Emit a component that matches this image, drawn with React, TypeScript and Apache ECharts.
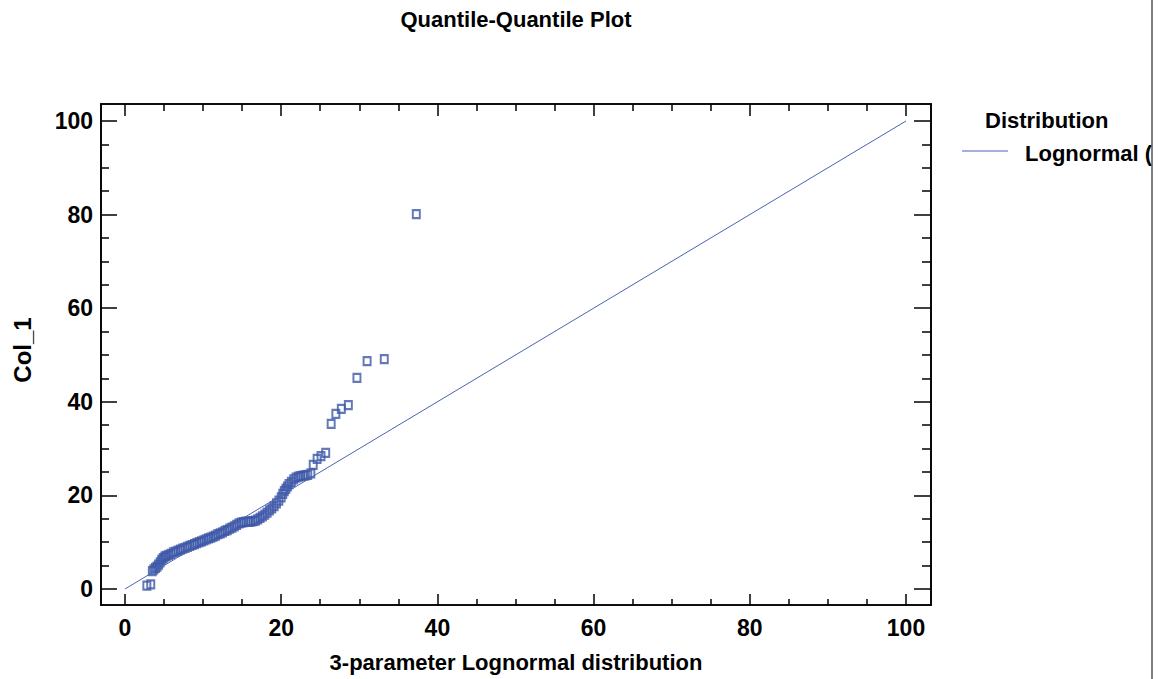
import React, { useEffect, useRef } from "react";
import * as echarts from "echarts";

// Theoretical quantiles (3-parameter lognormal) and sorted sample values (Col_1)
const theoreticalQuantiles = [
  2.8, 3.3, 3.5, 3.7, 3.9, 4.1, 4.3, 4.5, 4.7, 4.9, 5.1, 5.3, 5.6, 5.9, 6.2, 6.5, 6.8, 7.1, 7.4, 7.7,
  8.0, 8.3, 8.6, 8.9, 9.2, 9.5, 9.8, 10.1, 10.4, 10.7, 11.0, 11.3, 11.6, 11.9, 12.2, 12.5, 12.8, 13.1,
  13.4, 13.7, 14.0, 14.3, 14.6, 14.9, 15.2, 15.5, 15.8, 16.1, 16.4, 16.7, 17.0, 17.3, 17.6, 17.9, 18.2,
  18.5, 18.8, 19.1, 19.4, 19.7, 20.0, 20.2, 20.4, 20.6, 20.8, 21.0, 21.3, 21.6, 21.9, 22.2, 22.5, 22.8,
  23.1, 23.4, 23.8, 24.1, 24.6, 25.1, 25.7, 26.4, 27.0, 27.7, 28.6, 29.7, 31.0, 33.2, 37.3,
];
const sampleQuantiles = [
  0.7, 1.0, 3.8, 4.2, 4.5, 4.8, 5.2, 5.7, 6.2, 6.6, 6.9, 7.1, 7.3, 7.5, 7.8, 8.0, 8.2, 8.4, 8.6, 8.8,
  9.0, 9.2, 9.4, 9.6, 9.8, 10.0, 10.2, 10.4, 10.6, 10.8, 11.0, 11.2, 11.4, 11.7, 11.9, 12.1, 12.4, 12.6,
  12.9, 13.1, 13.4, 13.7, 14.0, 14.2, 14.3, 14.4, 14.4, 14.4, 14.5, 14.6, 14.9, 15.2, 15.5, 15.9, 16.3,
  16.8, 17.2, 17.7, 18.3, 18.9, 19.6, 20.3, 20.9, 21.4, 21.9, 22.4, 22.9, 23.4, 23.8, 24.0, 24.1, 24.2,
  24.3, 24.4, 24.7, 26.5, 27.8, 28.4, 29.1, 35.3, 37.4, 38.5, 39.3, 45.1, 48.7, 49.1, 80.1,
];
// Fitted reference line (x = y)
const fitLineX = [0, 100];
const fitLineY = [0, 100];

const majorTicks = [0, 20, 40, 60, 80, 100];
const minorTicks = [5, 10, 15, 25, 30, 35, 45, 50, 55, 65, 70, 75, 85, 90, 95];

const titleText = "Quantile-Quantile Plot";
const xAxisTitle = "3-parameter Lognormal distribution";
const yAxisTitle = "Col_1";
const legendTitle = "Distribution";
const legendItem = "Lognormal (3-Parameter)";

const X_MIN = -3.07;
const X_MAX = 103.2;
const Y_MIN = -3.42;
const Y_MAX = 103.63;

const BLUE = "#3d58a8";
const LABEL_FONT = "'Liberation Sans', Arial, sans-serif";
const TEXT_FONT = "'Liberation Sans', Arial, sans-serif";

function makeAxis(
  position: string,
  min: number,
  max: number,
  values: number[],
  length: number,
  withLabel: boolean,
  labelMargin: number
) {
  return {
    type: "value",
    gridIndex: 0,
    position,
    min,
    max,
    axisLine: { show: true, onZero: false, lineStyle: { color: "#000", width: 1.6 } },
    axisTick: {
      show: true,
      inside: true,
      length,
      customValues: values,
      lineStyle: { color: "#000", width: 1.5 },
    },
    axisLabel: {
      show: withLabel,
      customValues: values,
      margin: labelMargin,
      color: "#000",
      fontFamily: LABEL_FONT,
      fontWeight: "bold",
      fontSize: 23,
    },
    splitLine: { show: false },
    minorTick: { show: false },
  };
}

const App = () => {
  const ref = useRef<HTMLDivElement>(null);
  useEffect(() => {
    document.body.style.margin = "0";
    const chart = echarts.init(ref.current!, null, { renderer: "svg" });
    const scatterData = theoreticalQuantiles.map((x, i) => [x, sampleQuantiles[i]]);
    const lineData = fitLineX.map((x, i) => [x, fitLineY[i]]);
    chart.setOption({
      animation: false,
      backgroundColor: "#fff",
      grid: { left: 101, right: 231, top: 104, bottom: 74, containLabel: false },
      xAxis: [
        makeAxis("bottom", X_MIN, X_MAX, majorTicks, 11, true, 11),
        makeAxis("bottom", X_MIN, X_MAX, minorTicks, 6, false, 11),
        makeAxis("top", X_MIN, X_MAX, majorTicks, 12, false, 11),
        makeAxis("top", X_MIN, X_MAX, minorTicks, 7, false, 11),
      ],
      yAxis: [
        makeAxis("left", Y_MIN, Y_MAX, majorTicks, 16, true, 8),
        makeAxis("left", Y_MIN, Y_MAX, minorTicks, 8, false, 8),
        makeAxis("right", Y_MIN, Y_MAX, majorTicks, 17, false, 8),
        makeAxis("right", Y_MIN, Y_MAX, minorTicks, 9, false, 8),
      ],
      series: [
        {
          type: "scatter",
          xAxisIndex: 0,
          yAxisIndex: 0,
          data: scatterData,
          symbol: "rect",
          symbolSize: [7, 8],
          itemStyle: { color: "rgba(255,255,255,0)", borderColor: BLUE, borderWidth: 2.1 },
          z: 3,
        },
        {
          type: "line",
          xAxisIndex: 0,
          yAxisIndex: 0,
          data: lineData,
          symbol: "none",
          lineStyle: { color: "#4a63b5", width: 1 },
          z: 4,
        },
      ],
      graphic: [
        {
          type: "text",
          x: 516,
          y: 19,
          style: {
            text: titleText,
            font: `bold 22px ${TEXT_FONT}`,
            fill: "#000",
            textAlign: "center",
            textVerticalAlign: "middle",
          },
        },
        {
          type: "text",
          x: 516,
          y: 662,
          style: {
            text: xAxisTitle,
            font: `bold 22px ${TEXT_FONT}`,
            fill: "#000",
            textAlign: "center",
            textVerticalAlign: "middle",
          },
        },
        {
          type: "text",
          x: 22,
          y: 350,
          rotation: Math.PI / 2,
          style: {
            text: yAxisTitle,
            font: `bold 24px ${TEXT_FONT}`,
            fill: "#000",
            textAlign: "center",
            textVerticalAlign: "middle",
          },
        },
        {
          type: "text",
          x: 985,
          y: 120,
          style: {
            text: legendTitle,
            font: `bold 22px ${TEXT_FONT}`,
            fill: "#000",
            textAlign: "left",
            textVerticalAlign: "middle",
          },
        },
        {
          type: "line",
          shape: { x1: 962, y1: 151, x2: 1008, y2: 151 },
          style: { stroke: "#4a63b5", lineWidth: 1 },
        },
        {
          type: "text",
          x: 1025,
          y: 153,
          style: {
            text: legendItem,
            font: `bold 22px ${TEXT_FONT}`,
            fill: "#000",
            textAlign: "left",
            textVerticalAlign: "middle",
          },
        },
        {
          type: "rect",
          z: 100,
          shape: { x: 1152, y: 0, width: 12, height: 679 },
          style: { fill: "#fff" },
        },
        {
          type: "line",
          z: 101,
          shape: { x1: 1152, y1: 0, x2: 1152, y2: 679 },
          style: { stroke: "#555", lineWidth: 1.5 },
        },
      ],
    });
    return () => chart.dispose();
  }, []);
  return <div ref={ref} style={{ width: 1162, height: 679 }} />;
};

export default App;
